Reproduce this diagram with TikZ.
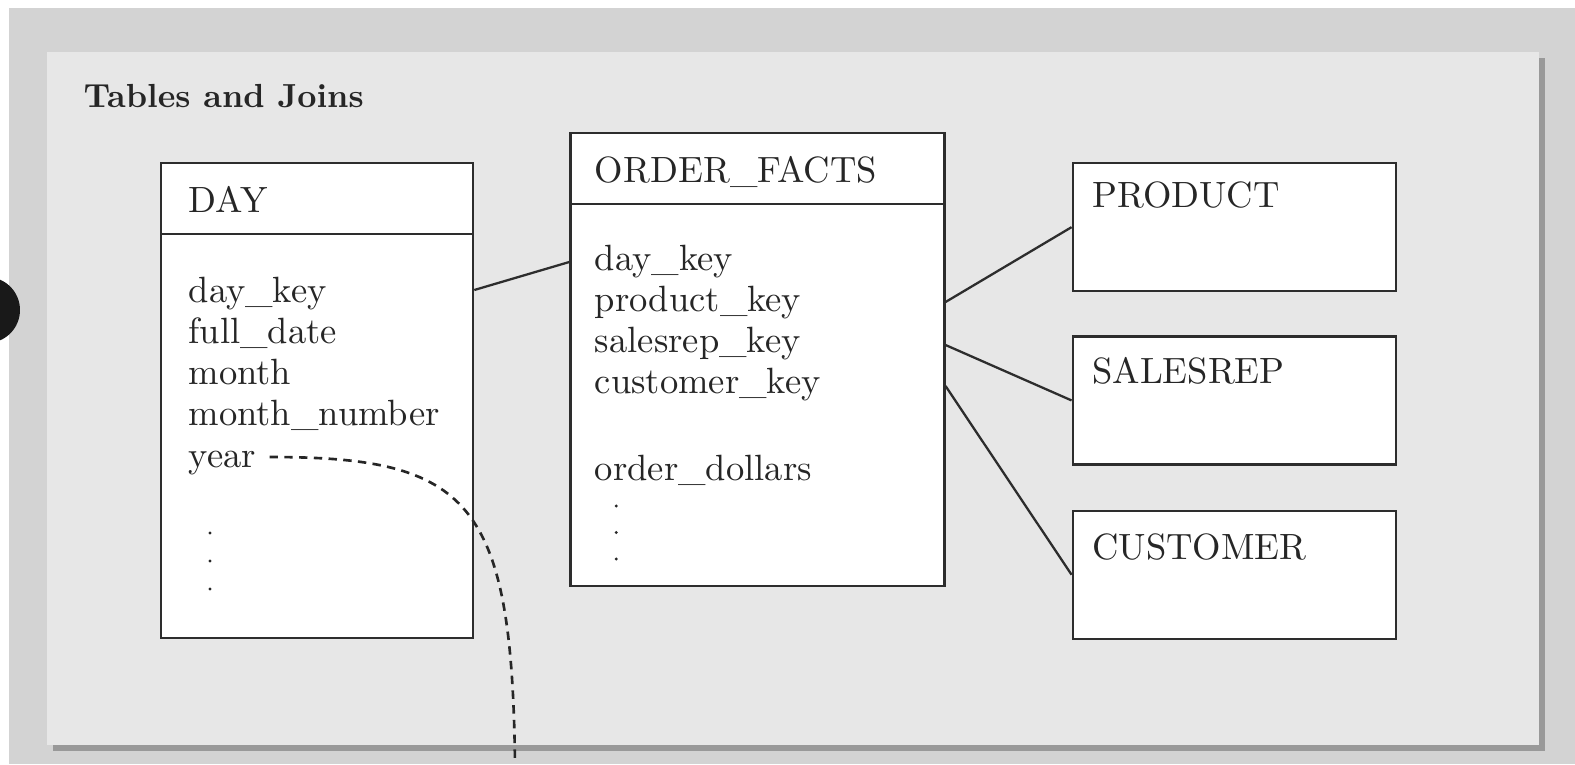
\documentclass[tikz,border=0pt]{standalone}
\usetikzlibrary{positioning}
\definecolor{pagegray}{RGB}{211,211,211}
\definecolor{panelgray}{RGB}{231,231,231}
\definecolor{shadowgray}{RGB}{153,153,153}
\definecolor{inkgray}{RGB}{45,45,45}

\begin{document}
\begin{tikzpicture}[
    tbl/.style={draw=inkgray, fill=white, line width=0.65pt, rectangle, inner sep=0pt, anchor=north west},
    dimbox/.style={tbl, minimum width=3.23cm, minimum height=1.28cm},
    hdr/.style={anchor=base west, inner sep=0pt, text=black!85, font=\fontsize{10.4}{11.7}\selectfont},
    fld/.style={hdr},
    dotmark/.style={fill=black!85},
    joinline/.style={draw=inkgray, line width=0.65pt},
    link/.style={draw=black!85, line width=0.75pt, dash pattern=on 2.4pt off 1.8pt}
]
\useasboundingbox (0,0) rectangle (15.75,-7.64);
% page, shadow and panel
\fill[pagegray] (0.09,-0.08) rectangle (15.75,-7.64);
\fill[shadowgray] (0.53,-0.58) rectangle (15.45,-7.51);
\fill[panelgray] (0.47,-0.52) rectangle (15.39,-7.45);
\fill[black!90] (-0.13,-3.10) circle (0.33);

\node[anchor=base west, inner sep=0pt, text=black!85, font=\fontsize{9.5}{11}\selectfont\bfseries] (title) at (0.83,-1.07) {Tables and Joins};

% tables
\node[tbl, minimum width=3.12cm, minimum height=4.75cm] (day) at (1.60,-1.62) {};
\node[tbl, minimum width=3.74cm, minimum height=4.53cm] (facts) at ([xshift=0.95cm, yshift=0.30cm]day.north east) {};
\node[dimbox] (product) at ([xshift=1.26cm, yshift=-0.30cm]facts.north east) {};
\node[dimbox, below=0.43cm of product] (salesrep) {};
\node[dimbox, below=0.44cm of salesrep] (customer) {};

\draw[joinline] ([yshift=-0.72cm]day.north west) -- ([yshift=-0.72cm]day.north east);
\draw[joinline] ([yshift=-0.72cm]facts.north west) -- ([yshift=-0.72cm]facts.north east);

\node[hdr] (dayhead) at ([shift={(0.28,-0.50)}]day.north west) {DAY};
\node[hdr] (factshead) at ([shift={(0.25,-0.50)}]facts.north west) {ORDER\_FACTS};
\node[hdr] (producthead) at ([shift={(0.20,-0.45)}]product.north west) {PRODUCT};
\node[hdr] (salesrephead) at ([shift={(0.20,-0.48)}]salesrep.north west) {SALESREP};
\node[hdr] (customerhead) at ([shift={(0.20,-0.50)}]customer.north west) {CUSTOMER};

% columns
\foreach \f [count=\i from 0] in {day\_key, full\_date, month, month\_number, year}
  \node[fld] (day-\i) at ([shift={(0.28,{-1.40-\i*0.4125})}]day.north west) {\f};
\foreach \k in {0,1,2}
  \fill[dotmark] ([shift={(0.50,{-3.71-\k*0.28})}]day.north west) circle (0.016);

\foreach \f [count=\i from 0] in {day\_key, product\_key, salesrep\_key, customer\_key}
  \node[fld] (facts-\i) at ([shift={(0.25,{-1.38-\i*0.41})}]facts.north west) {\f};
\node[fld] (facts-4) at ([shift={(0.25,-3.48)}]facts.north west) {order\_dollars};
\foreach \k in {0,1,2}
  \fill[dotmark] ([shift={(0.47,{-3.74-\k*0.265})}]facts.north west) circle (0.016);

% joins
\draw[joinline] ([yshift=-1.28cm]day.north east) -- ([yshift=-1.30cm]facts.north west);
\draw[joinline] ([yshift=-1.70cm]facts.north east) -- (product.west);
\draw[joinline] ([yshift=-2.13cm]facts.north east) -- (salesrep.west);
\draw[joinline] ([yshift=-2.54cm]facts.north east) -- (customer.west);

% year link
\coordinate (yearlink) at (5.15,-7.64);
\draw[link] ([shift={(0.13,0.10)}]day-4.base east) .. controls +(2.00,0) and +(-0.03,2.64) .. (yearlink);
\end{tikzpicture}
\end{document}
